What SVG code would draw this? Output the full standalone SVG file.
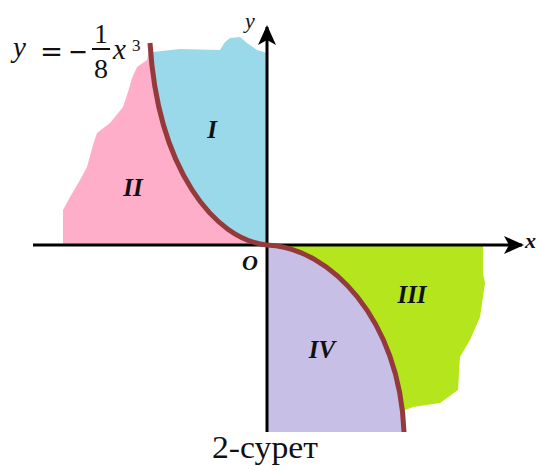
<svg xmlns="http://www.w3.org/2000/svg" width="537" height="470" viewBox="0 0 537 470">
<style>
.region{stroke:none}
.serif{font-family:"Liberation Serif","Times New Roman","DejaVu Serif",serif}
.roman{font-family:"Liberation Serif","Times New Roman","DejaVu Serif",serif;font-style:italic;font-weight:bold;font-size:25px;fill:#111;text-anchor:middle}
.math{font-family:"Liberation Serif","Times New Roman","DejaVu Serif",serif;font-style:italic;fill:#111}
.axis{stroke:#000;stroke-width:3;fill:none}
.curve{stroke:#943a3a;stroke-width:5;fill:none;stroke-linecap:butt}
</style>
<defs>
<marker id="arrow" viewBox="0 0 20 20" refX="18" refY="10" markerWidth="20" markerHeight="20" markerUnits="userSpaceOnUse" orient="auto">
<path d="M0,1 L20,10 L0,19 L5,10 Z" fill="#000"/>
</marker>
</defs>
<rect width="537" height="470" fill="#fff"/>
<g id="region-II">
<path class="region" fill="#FFAEC9" d="M267,245 L63,245 L63,210 L70,197 L80,180 L87,167 L93,145 L97,133 L110,123 L123,107 L128,92 L132,78 L137,67 L147,60 L150,43 C158,170 215,240 267,245 Z"/>
<text class="roman" x="133" y="196">II</text>
</g>
<g id="region-I">
<path class="region" fill="#99D9EA" d="M150,43 C158,170 215,240 267,245 L267,53 L257,50 L247,43 L240,37 L230,38 L225,42 L220,50 L180,49 L153,52 Z"/>
<text class="roman" x="212" y="138">I</text>
</g>
<g id="region-III">
<path class="region" fill="#B5E61D" d="M267,245 L483,245 L483,273 L485,283 L480,317 L470,340 L460,357 L458,390 L440,403 L413,407 L400,412 L380,400 L300,260 Z"/>
<text class="roman" x="412" y="303">III</text>
</g>
<g id="region-IV">
<path class="region" fill="#C8BFE7" d="M267,245 C330,247 400,320 404,432 L267,432 Z"/>
<text class="roman" x="322" y="358">IV</text>
</g>
<g id="connectors">
<line class="axis" x1="33" y1="245" x2="522" y2="245" marker-end="url(#arrow)"/>
<line class="axis" x1="267" y1="432" x2="267" y2="27" marker-end="url(#arrow)"/>
<path class="curve" d="M150,43 C158,170 215,240 267,245 C330,247 400,320 404,432"/>
</g>
<g id="labels">
<text class="math" x="245" y="28" font-size="22" fill="#1a2040">y</text>
<text class="math" x="525" y="248" font-size="22" font-weight="bold" fill="#1a2040">x</text>
<text class="math" x="250" y="270" font-size="22" font-weight="bold" text-anchor="middle">O</text>
</g>
<g id="formula">
<text class="math" x="13" y="57" font-size="29">y</text>
<text x="40" y="61" font-family="DejaVu Serif, serif" font-size="28" fill="#111" textLength="23" lengthAdjust="spacingAndGlyphs">=</text>
<text x="68" y="61" font-family="DejaVu Serif, serif" font-size="28" fill="#111" textLength="20" lengthAdjust="spacingAndGlyphs">−</text>
<text class="serif" x="101" y="43" font-size="27" fill="#111" text-anchor="middle">1</text>
<line x1="92" y1="49" x2="110" y2="49" stroke="#111" stroke-width="2"/>
<text class="serif" x="101" y="78" font-size="28" fill="#111" text-anchor="middle">8</text>
<text class="math" x="113" y="59" font-size="29">x</text>
<text class="serif" x="132" y="51" font-size="17" fill="#111">3</text>
</g>
<text class="serif" x="265" y="458" font-size="31" fill="#111" text-anchor="middle" textLength="106" lengthAdjust="spacingAndGlyphs">2-сурет</text>
</svg>
